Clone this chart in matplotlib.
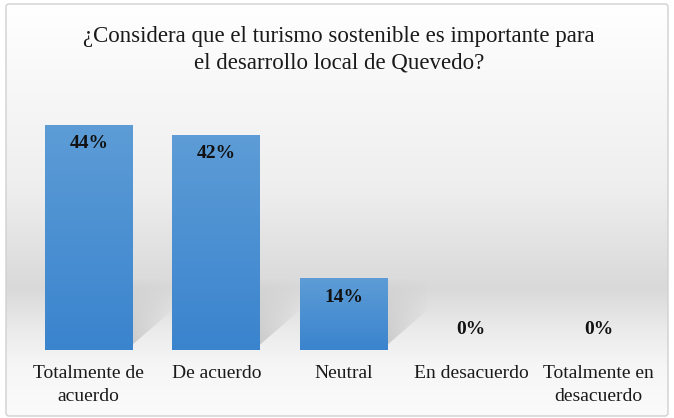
import matplotlib
matplotlib.use("Agg")
import matplotlib.pyplot as plt
import numpy as np
from matplotlib.patches import FancyBboxPatch, Polygon
from matplotlib.colors import LinearSegmentedColormap

categories = ["Totalmente de\nacuerdo", "De acuerdo", "Neutral",
              "En desacuerdo", "Totalmente en\ndesacuerdo"]
values = [44, 42, 14, 0, 0]
labels = ["44%", "42%", "14%", "0%", "0%"]
title = "¿Considera que el turismo sostenible es importante para\nel desarrollo local de Quevedo?"

plt.rcParams['font.family'] = ['Liberation Serif', 'DejaVu Serif']

fig = plt.figure(figsize=(6.74, 4.18), dpi=100)
W, H = 674, 418

# background panel with vertical gradient
bg = fig.add_axes([0, 0, 1, 1], zorder=0)
bg.set_xlim(0, W)
bg.set_ylim(H, 0)
bg.axis("off")
bg_cmap = LinearSegmentedColormap.from_list("bg", [
    (0.0, "#ffffff"), (0.45, "#eeeeee"), (0.69, "#d9d9d9"),
    (0.80, "#ececec"), (0.88, "#f6f6f6"), (1.0, "#fbfbfb")])
grad = np.linspace(0, 1, 256).reshape(-1, 1)
frame = FancyBboxPatch((6, 4), 662, 412, boxstyle="round,pad=0,rounding_size=3",
                       fc="none", ec="#d0d0d0", lw=1.0, zorder=3)
bg.add_patch(frame)
img = bg.imshow(grad, cmap=bg_cmap, aspect="auto", extent=(6, 668, 416, 4), zorder=1)
img.set_clip_path(frame)

bg.text(W / 2 + 2, 50, title, ha="center", va="center", fontsize=16.5,
        color="#1a1a1a", linespacing=1.32)

ax = fig.add_axes([25 / W, 68 / H, 637.5 / W, 255.7 / H], zorder=1)
ax.patch.set_alpha(0)
x = np.arange(len(categories))
bars = ax.bar(x, values, width=0.69, color="none", zorder=3)
ax.set_xlim(-0.5, len(categories) - 0.5)
ax.set_ylim(0, 50)
for s in ax.spines.values():
    s.set_visible(False)
ax.set_yticks([])
ax.set_xticks(x)
ax.set_xticklabels(categories, fontsize=14, color="#1a1a1a", linespacing=1.45)
ax.tick_params(axis="x", length=0, pad=11)

bar_cmap = LinearSegmentedColormap.from_list("bar", ["#3a84ce", "#5d9cd6"])
# soft shadow: fades upward and away from the bar
ny, nx = 64, 32
yy = np.linspace(0, 1, ny).reshape(-1, 1)
xx = np.linspace(0, 1, nx).reshape(1, -1)
shadow = np.zeros((ny, nx, 4))
shadow[..., :3] = 0.5
shadow[..., 3] = 0.38 * np.clip(1 - yy, 0, 1) ** 0.9 * (1 - xx) ** 0.7
for b in bars:
    h = b.get_height()
    if h <= 0:
        continue
    xl, w = b.get_x(), b.get_width()
    xr = xl + w
    # perspective shadow behind the bar
    poly = Polygon([(xr - 0.05, 0), (xr + 0.32, 8), (xr + 0.32, 14), (xr - 0.05, 14)],
                   closed=True, fc="none", ec="none")
    ax.add_patch(poly)
    sh = ax.imshow(shadow, aspect="auto", extent=(xr - 0.05, xr + 0.32, 0, 14),
                   origin="lower", zorder=2, interpolation="bilinear")
    sh.set_clip_path(poly)
    bi = ax.imshow(np.linspace(0, 1, 128).reshape(-1, 1), cmap=bar_cmap, aspect="auto",
                   extent=(xl, xr, 0, h), origin="lower", zorder=3)
    bi.set_clip_path(b)

for xi, v, lab in zip(x, values, labels):
    if v > 0:
        ax.text(xi, v - 2.0, lab, ha="center", va="top", fontsize=14,
                fontweight="bold", color="#111111", zorder=5)
    else:
        ax.text(xi, v + 2.4, lab, ha="center", va="bottom", fontsize=14,
                fontweight="bold", color="#111111", zorder=5)

fig.savefig("out.png", dpi=100)
